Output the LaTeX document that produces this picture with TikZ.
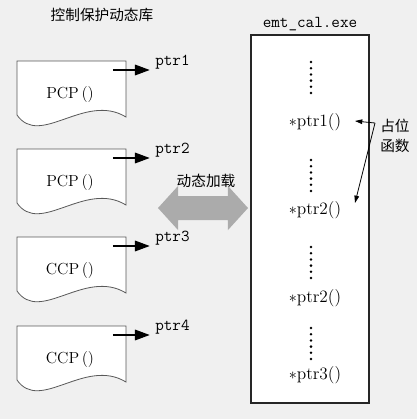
\documentclass[tikz,border=0pt]{standalone}
\usepackage{fontspec}
\newfontfamily\cjk{Noto Sans CJK SC}
\usetikzlibrary{arrows.meta}
\begin{document}
\begin{tikzpicture}[x=0.75pt,y=-0.75pt,
  doc/.style={draw=black!65, line width=0.6pt, fill=white},
  exebox/.style={draw=black!85, line width=0.9pt, fill=white},
  fnlbl/.style={font=\fontsize{12}{14}\selectfont, inner sep=0pt},
  ptrlbl/.style={font=\ttfamily\fontsize{12.5}{14}\selectfont, inner sep=0pt},
  cjklbl/.style={font=\cjk\fontsize{11}{15}\selectfont, inner sep=0pt, align=center},
  ptrfn/.style={font=\fontsize{13}{15}\selectfont, inner sep=0pt},
  bigarr/.style={-{Triangle[length=11pt,width=8pt]}, line width=0.8pt},
  smallarr/.style={-{Triangle[length=5.5pt,width=3.5pt]}, line width=0.6pt},
  vdot/.style={fill=black, draw=none}
]
\useasboundingbox (0,0) rectangle (417,419);
\fill[black!6] (0,0) rectangle (417,419);

% title
\node[cjklbl] (title) at (102,15) {控制保护动态库};

% documents
\foreach \t/\n/\i in {61/PCP/1, 149/PCP/2, 237/CCP/3, 326/CCP/4}{
  \draw[doc] (17,\t) -- (126,\t) -- (126,\t+56)
     .. controls (85,\t+31) and (40,\t+87) .. (17,\t+54) -- cycle;
  \node[fnlbl] (d\i) at (70,\t+34) {\n\,()};
  \node[ptrlbl, anchor=base west] (p\i) at (155,\t+4) {ptr\i};
  \coordinate (s\i) at (113,\t+9);
  \draw[bigarr] (s\i) -- ([xshift=-4]p\i.west |- s\i);
}

% dynamic loading arrow
\node[cjklbl] (load) at (206,181) {动态加载};
\fill[black!33] (158,208) -- (178,186) -- (178,196) -- (228,196) -- (228,186)
   -- (248,208) -- (228,230) -- (228,220) -- (178,220) -- (178,230) -- cycle;

% exe box
\node[ptrlbl] (exe) at (310,24) {emt\_cal.exe};
\draw[exebox] (251,35) rectangle (369,403);

\foreach \y in {62,160,247,328}{
  \foreach \k in {0,...,5}{
    \fill[vdot] (311,\y+\k*6.2) circle (1.4);
  }
}
\node[ptrfn] (f1) at (315,122) {$\ast$ptr1()};
\node[ptrfn] (f2) at (315,210) {$\ast$ptr2()};
\node[ptrfn] (f3) at (315,298) {$\ast$ptr2()};
\node[ptrfn] (f4) at (315,375) {$\ast$ptr3()};

% placeholder label
\node[cjklbl] (ph) at (395,136) {占位\\函数};
\coordinate (j) at (375,123);
\draw[smallarr] (j) -- (355,121);
\draw[smallarr] (j) -- (355,203);
\end{tikzpicture}
\end{document}
